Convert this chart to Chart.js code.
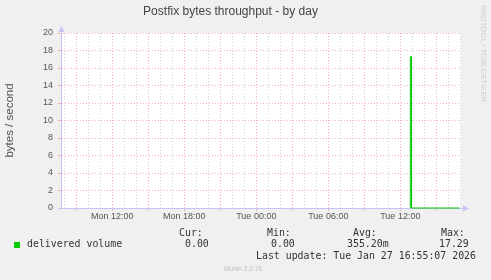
<!DOCTYPE html>
<html>
<head>
<meta charset="utf-8">
<script src="https://cdn.jsdelivr.net/npm/chart.js@4/dist/chart.umd.min.js"></script>
<style>
    body { margin: 0; background: #f0f0f0; }
    #wrap { position: relative; width: 491px; height: 280px; overflow: hidden; }
    #chart { position: absolute; left: 0; top: 0; }
    .mono { position: absolute; font-family: "DejaVu Sans Mono", monospace; font-size: 9.9px; line-height: 12px; color: #333; white-space: pre; }
    #swatch { position: absolute; left: 14px; top: 242px; width: 6px; height: 6px; background: #00cc00; }
    #vendor { position: absolute; left: 224px; top: 264px; font-family: "Liberation Sans", Arial, sans-serif; font-size: 6.6px; line-height: 9px; color: #c0c0c0; }
    #rrd { position: absolute; left: 479px; top: 5px; writing-mode: vertical-rl; font-family: "Liberation Sans", Arial, sans-serif; font-size: 7.7px; line-height: 9px; color: #cccccc; white-space: nowrap; }
</style>
</head>
<body>
<div id="wrap">
    <canvas id="chart" width="491" height="280"></canvas>
    <div id="rrd">RRDTOOL / TOBI OETIKER</div>
    <div id="swatch"></div>
    <div class="mono" style="left:27px; top:238px;">delivered volume</div>
    <div class="mono" style="left:179px; top:227px;">Cur:</div>
    <div class="mono" style="left:267px; top:227px;">Min:</div>
    <div class="mono" style="left:353px; top:227px;">Avg:</div>
    <div class="mono" style="left:441px; top:227px;">Max:</div>
    <div class="mono" id="curVal" style="left:185px; top:238px;"></div>
    <div class="mono" id="minVal" style="left:271px; top:238px;"></div>
    <div class="mono" id="avgVal" style="left:347px; top:238px;"></div>
    <div class="mono" id="maxVal" style="left:439px; top:238px;"></div>
    <div class="mono" style="left:256px; top:250px;">Last update: Tue Jan 27 16:55:07 2026</div>
    <div id="vendor">Munin 2.0.76</div>
</div>
<script>
// Series data (times, 5-minute samples)
const sampleTimes = ['Tue 12:50', 'Tue 12:50', 'Tue 12:55', 'Tue 12:56', 'Tue 16:55'];
const deliveredVolume = [0, 17.29, 17.29, 0, 0];

// Legend summary values
const summaryLabels = ['Cur', 'Min', 'Avg', 'Max'];
const summaryValues = ['0.00', '0.00', '355.20m', '17.29'];

// Axis range (minutes since Mon 00:00) and tick labels
const dayNames = ['Mon', 'Tue'];
const xRange = [463.5, 2463.5];
const yTickValues = [0, 2, 4, 6, 8, 10, 12, 14, 16, 18, 20];

const RED_GRID = '#f7b0b0';
const GRAY_GRID = '#d4d4d4';
const AXIS_COLOR = '#c4c4f4';

function toMinutes(label) {
    const parts = label.split(' ');
    const hm = parts[1].split(':');
    return dayNames.indexOf(parts[0]) * 1440 + parseInt(hm[0]) * 60 + parseInt(hm[1]);
}

function formatTime(v) {
    const day = Math.floor(v / 1440);
    const h = Math.floor((v % 1440) / 60);
    return dayNames[day] + ' ' + String(h).padStart(2, '0') + ':00';
}

// Fill legend values
['curVal', 'minVal', 'avgVal', 'maxVal'].forEach((id, i) => {
    document.getElementById(id).textContent = summaryValues[i];
});

// White plot area + axis arrows
const plotDecor = {
    id: 'plotDecor',
    beforeDraw(chart) {
        const { ctx, chartArea } = chart;
        ctx.save();
        ctx.fillStyle = '#ffffff';
        ctx.fillRect(chartArea.left, chartArea.top, chartArea.right - chartArea.left, chartArea.bottom - chartArea.top);
        ctx.restore();
    },
    afterDraw(chart) {
        const { ctx, chartArea } = chart;
        const x = chartArea.left + 0.5;
        const y = chartArea.bottom + 0.5;
        ctx.save();
        ctx.fillStyle = AXIS_COLOR;
        ctx.strokeStyle = AXIS_COLOR;
        ctx.lineWidth = 1;
        // extend x axis a little past the plot
        ctx.beginPath();
        ctx.moveTo(chartArea.right, y);
        ctx.lineTo(chartArea.right + 4, y);
        ctx.stroke();
        ctx.beginPath();
        ctx.moveTo(chartArea.left - 3, y);
        ctx.lineTo(chartArea.left, y);
        ctx.stroke();
        // up arrow
        ctx.beginPath();
        ctx.moveTo(x - 3, chartArea.top - 1);
        ctx.lineTo(x + 3, chartArea.top - 1);
        ctx.lineTo(x, chartArea.top - 7);
        ctx.closePath();
        ctx.fill();
        // right arrow
        ctx.beginPath();
        ctx.moveTo(chartArea.right + 2, y - 3);
        ctx.lineTo(chartArea.right + 2, y + 3);
        ctx.lineTo(chartArea.right + 8, y);
        ctx.closePath();
        ctx.fill();
        ctx.restore();
    }
};

const points = sampleTimes.map((t, i) => ({ x: toMinutes(t), y: deliveredVolume[i] }));

new Chart(document.getElementById('chart'), {
    type: 'line',
    data: {
        datasets: [{
            label: 'delivered volume',
            data: points,
            borderColor: '#00cc00',
            backgroundColor: '#00cc00',
            borderWidth: 1,
            pointRadius: 0,
            tension: 0,
            clip: 3
        }]
    },
    options: {
        responsive: false,
        animation: false,
        devicePixelRatio: 1,
        layout: { padding: { left: 0, right: 30, top: 0, bottom: 52 } },
        plugins: {
            legend: { display: false },
            tooltip: { enabled: false },
            title: {
                display: true,
                text: 'Postfix bytes throughput - by day',
                color: '#444',
                font: { family: 'Liberation Sans', size: 12, weight: 'normal' },
                padding: { top: 4.8, bottom: 13.8 }
            }
        },
        scales: {
            x: {
                type: 'linear',
                min: xRange[0],
                max: xRange[1],
                afterBuildTicks(scale) {
                    const ticks = [];
                    for (let v = Math.ceil(xRange[0] / 60) * 60; v <= xRange[1]; v += 60) {
                        ticks.push({ value: v });
                    }
                    scale.ticks = ticks;
                },
                afterFit(scale) { scale.height = 20; },
                ticks: {
                    autoSkip: false,
                    maxRotation: 0,
                    padding: 0,
                    color: '#555',
                    font: { family: 'Liberation Sans', size: 9 },
                    callback: (v) => (v % 360 === 0 ? formatTime(v) : '')
                },
                grid: {
                    color: (ctx) => (ctx.tick && ctx.tick.value % 180 === 0 ? RED_GRID : GRAY_GRID),
                    tickColor: (ctx) => (ctx.tick && ctx.tick.value % 180 === 0 ? RED_GRID : 'rgba(0,0,0,0)'),
                    tickLength: 3,
                    lineWidth: 1
                },
                border: { color: AXIS_COLOR, width: 1, dash: [1, 2] }
            },
            y: {
                min: 0,
                max: 20,
                afterBuildTicks(scale) {
                    const ticks = [];
                    for (let v = 0; v <= 20; v += 1) ticks.push({ value: v });
                    scale.ticks = ticks;
                },
                afterFit(scale) { scale.width = 61; },
                ticks: {
                    padding: 5,
                    color: '#555',
                    font: { family: 'Liberation Sans', size: 9 },
                    callback: (v) => (yTickValues.includes(v) ? String(v) : '')
                },
                grid: {
                    color: (ctx) => (ctx.tick && ctx.tick.value % 2 === 0 ? RED_GRID : GRAY_GRID),
                    tickColor: (ctx) => (ctx.tick && ctx.tick.value % 2 === 0 ? RED_GRID : 'rgba(0,0,0,0)'),
                    tickLength: 3,
                    lineWidth: 1
                },
                border: { color: AXIS_COLOR, width: 1, dash: [1, 2] },
                title: {
                    display: true,
                    text: 'bytes / second',
                    color: '#555',
                    font: { family: 'Liberation Sans', size: 11.5 },
                    padding: { top: 3, bottom: 0 }
                }
            }
        }
    },
    plugins: [plotDecor]
});
</script>
</body>
</html>
